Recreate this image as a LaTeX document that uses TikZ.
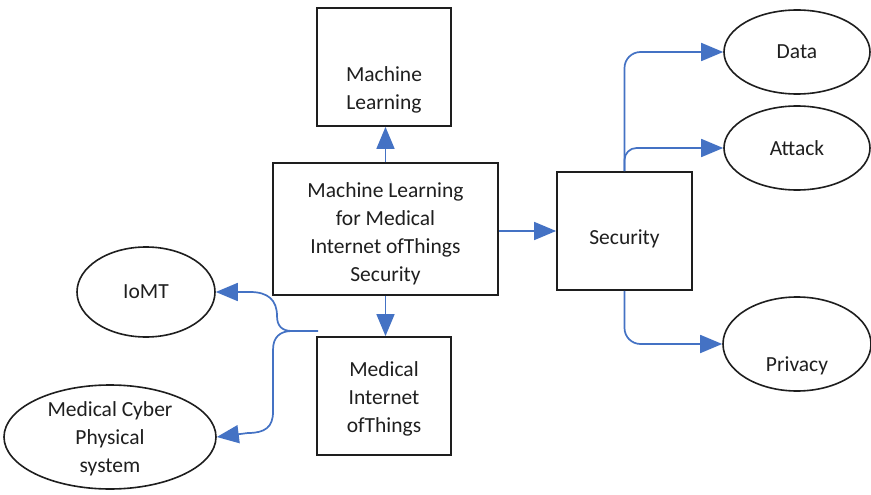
\documentclass[tikz,border=0pt]{standalone}
\usepackage{fontspec}
\setmainfont{Carlito}
\usetikzlibrary{arrows.meta,shapes.geometric}
\definecolor{linkblue}{RGB}{68,114,196}
\definecolor{edge}{RGB}{30,30,30}
\tikzset{
  box/.style={draw=edge, line width=1.8pt, rectangle, align=center, inner sep=0pt},
  oval/.style={draw=edge, line width=1.6pt, ellipse, align=center, inner sep=0pt},
  conn/.style={draw=linkblue, line width=1.7pt, -{Triangle[length=22pt,width=18pt]}},
  every node/.style={font=\fontsize{21.5}{28}\selectfont, text=black!88},
  every label/.style={align=center}
}
\begin{document}
\begin{tikzpicture}[x=1pt,y=-1pt]
  \useasboundingbox (0,0) rectangle (871,495);
  \fill[white] (0,0) rectangle (871,495);

  % boxes
  \node[box, minimum width=134pt, minimum height=118pt,
        label={[yshift=-23pt]center:Machine\\Learning}] (ml) at (384,67) {};
  \node[box, minimum width=225pt, minimum height=132pt,
        label={[yshift=-5pt]center:Machine Learning\\for Medical\\Internet ofThings\\Security}]
        (main) at (385.5,229) {};
  \node[box, minimum width=134pt, minimum height=118pt,
        label={[yshift=-3pt]center:Medical\\Internet\\ofThings}] (miot) at (384,396) {};
  \node[box, minimum width=135pt, minimum height=118pt,
        label={[yshift=-8pt]center:Security}] (sec) at (624.5,231) {};

  % ellipses
  \node[oval, minimum width=146pt, minimum height=84pt] (data) at (797,52) {Data};
  \node[oval, minimum width=146pt, minimum height=84pt] (attack) at (797,148) {Attack};
  \node[oval, minimum width=148pt, minimum height=94pt,
        label={[yshift=-22pt]center:Privacy}] (privacy) at (797,344) {};
  \node[oval, minimum width=138pt, minimum height=90pt] (iomt) at (146,292) {IoMT};
  \node[oval, minimum width=212pt, minimum height=104pt,
        label={[yshift=-2pt]center:Medical Cyber\\Physical\\system}] (mcps) at (110,437) {};

  % connectors from the central box
  \draw[conn] (main.north) -- (main.north |- ml.south);
  \draw[conn] (main.south) -- (main.south |- miot.north);
  \draw[conn] (main.east |- sec.west) -- (sec.west);

  % security branches
  \draw[conn, rounded corners=16pt] (sec.north) |- (data.west);
  \draw[conn, rounded corners=12pt] (sec.north) |- (attack.west);
  \draw[conn, rounded corners=16pt] (sec.south) |- (privacy.west);

  % brace-shaped split to the left
  \coordinate (split) at (318,331);
  \draw[conn] (split) -- (292,331)
      .. controls (282,331) and (277,326) .. (277,316)
      .. controls (277,300) and (268,292) .. (250,292)
      -- (iomt.east);
  \draw[conn] (292,331)
      .. controls (280,331) and (273,337) .. (273,350)
      -- (273,412)
      .. controls (273,427) and (265,433) .. (248,433)
      -- (mcps.east);
\end{tikzpicture}
\end{document}
